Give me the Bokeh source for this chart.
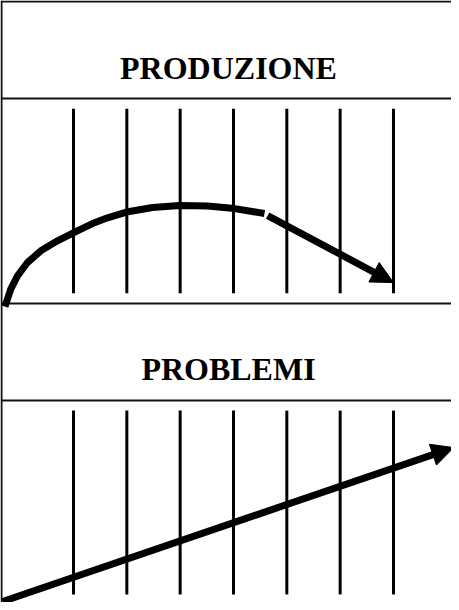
from bokeh.plotting import figure
from bokeh.models import Range1d, ColumnDataSource, Arrow, NormalHead
from bokeh.core.properties import value
from bokeh.embed import file_html
from bokeh.resources import INLINE

# ---------------- data ----------------
periods = [1, 2, 3, 4, 5, 6, 7]                      # vertical time markers
panel_titles = ["PRODUZIONE", "PROBLEMI"]

# production curve (period, index 0-100 of the upper panel)
production_x = [-0.285, -0.176, -0.05, 0.137, 0.387, 0.70, 1.043, 1.356, 1.638, 1.994, 2.481, 2.988, 3.513, 4.019, 4.581]
production_y = [-1.5, 7.0, 13.5, 20.0, 25.7, 30.6, 35.1, 39.0, 41.8, 44.6, 46.8, 47.8, 47.6, 46.3, 43.9]
# production decline arrow
decline_x = [4.64, 7.0]
decline_y = [42.9, 10.2]
# problems rising arrow
problems_x = [-0.33, 8.13]
problems_y = [0.5, 76.7]

# ---------------- layout (pixels, y measured from bottom) ----------------
W, H = 451, 602
GRID_X0, GRID_STEP = 73.0, 53.33          # pixel x of period 1, pixels per period
PROD_BASE, PROD_SCALE = 299.0, 2.05       # pixel y of index 0, pixels per unit (upper panel)
PROB_BASE, PROB_SCALE = 0.0, 2.02         # same for lower panel
BORDER_X = 1
BORDER_TOP = 601
SEPARATORS = [504, 299, 202]
TITLE_X = 228
TITLE_Y = [535, 234]

p = figure(width=W, height=H, output_backend="svg", toolbar_location=None,
           x_range=Range1d(0, W), y_range=Range1d(0, H),
           x_axis_type=None, y_axis_type=None, min_border=0,
           background_fill_color="white", border_fill_color="white",
           outline_line_color=None)
p.grid.visible = False

p.extra_x_ranges = {"period": Range1d(1 + (0 - GRID_X0) / GRID_STEP, 1 + (W - GRID_X0) / GRID_STEP)}
p.extra_y_ranges = {
    "prod": Range1d((0 - PROD_BASE) / PROD_SCALE, (H - PROD_BASE) / PROD_SCALE),
    "prob": Range1d((0 - PROB_BASE) / PROB_SCALE, (H - PROB_BASE) / PROB_SCALE),
}

# frame lines
p.segment(x0=[BORDER_X], y0=[0], x1=[BORDER_X], y1=[H], line_color="#111111", line_width=2)
p.segment(x0=[BORDER_X] * 4, y0=[BORDER_TOP] + SEPARATORS, x1=[W] * 4, y1=[BORDER_TOP] + SEPARATORS,
          line_color="#111111", line_width=2)

# vertical period markers
p.segment(x0=periods, y0=[5] * 7, x1=periods, y1=[95] * 7, line_color="black", line_width=3,
          x_range_name="period", y_range_name="prod")
p.segment(x0=periods, y0=[4] * 7, x1=periods, y1=[95] * 7, line_color="black", line_width=3,
          x_range_name="period", y_range_name="prob")

# titles
p.text(x=[TITLE_X, TITLE_X], y=TITLE_Y, text=panel_titles,
       text_font=value("Liberation Serif"), text_font_style="bold", text_font_size="32px",
       text_align="center", text_baseline="alphabetic", text_color="black")

# production curve
p.line(production_x, production_y, line_width=7, line_color="black", line_join="round",
       x_range_name="period", y_range_name="prod")

dec = ColumnDataSource(dict(x0=[decline_x[0]], y0=[decline_y[0]], x1=[decline_x[1]], y1=[decline_y[1]]))
p.add_layout(Arrow(source=dec, x_start="x0", y_start="y0", x_end="x1", y_end="y1",
                   line_width=7, line_color="black",
                   end=NormalHead(size=22, fill_color="black", line_color="black"),
                   x_range_name="period", y_range_name="prod"))

prob = ColumnDataSource(dict(x0=[problems_x[0]], y0=[problems_y[0]], x1=[problems_x[1]], y1=[problems_y[1]]))
p.add_layout(Arrow(source=prob, x_start="x0", y_start="y0", x_end="x1", y_end="y1",
                   line_width=7, line_color="black",
                   end=NormalHead(size=22, fill_color="black", line_color="black"),
                   x_range_name="period", y_range_name="prob"))

open("out.html", "w").write(file_html(p, INLINE))
